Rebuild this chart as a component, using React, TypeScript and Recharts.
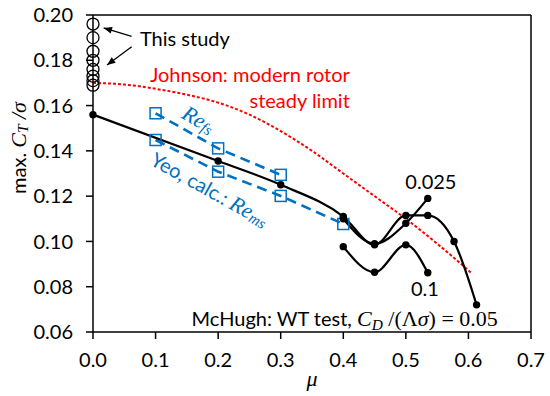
import { ComposedChart, Line, XAxis, YAxis, ReferenceLine, ReferenceDot, Label } from 'recharts'

const FONT = 'Lato, sans-serif'
const MATH = '"Liberation Serif", serif'
const BLUE = '#0070C0'
const RED = '#FF0000'
const FS = 20
const MS = 22

const X_TICKS = [0, 0.1, 0.2, 0.3, 0.4, 0.5, 0.6, 0.7]
const Y_TICKS = [0.06, 0.08, 0.1, 0.12, 0.14, 0.16, 0.18, 0.2]

// this study, all at mu = 0
const studyMu = [0, 0, 0, 0, 0, 0, 0, 0]
const studyCt = [0.196, 0.19, 0.184, 0.18, 0.176, 0.173, 0.171, 0.169]

// Johnson steady limit
const johnsonMu = [0, 0.05, 0.1, 0.15, 0.2, 0.25, 0.3, 0.35, 0.4, 0.45, 0.5, 0.55, 0.605]
const johnsonCt = [0.17, 0.1693, 0.1674, 0.1648, 0.1613, 0.156, 0.1487, 0.14, 0.13, 0.12, 0.11, 0.099, 0.086]

// McHugh WT test
const cd05Mu = [0, 0.2, 0.3, 0.4, 0.45, 0.5, 0.535, 0.577, 0.613]
const cd05Ct = [0.156, 0.1355, 0.125, 0.111, 0.0985, 0.1115, 0.1115, 0.1, 0.072]
const cd025Mu = [0.4, 0.45, 0.5, 0.535]
const cd025Ct = [0.11, 0.099, 0.108, 0.119]
const cd1Mu = [0.4, 0.45, 0.5, 0.535]
const cd1Ct = [0.0977, 0.0864, 0.0985, 0.0862]

// Yeo calc.
const refsMu = [0.1, 0.2, 0.3]
const refsCt = [0.1566, 0.1411, 0.1294]
const remsMu = [0.1, 0.2, 0.3, 0.4]
const remsCt = [0.1448, 0.1308, 0.1201, 0.1077]

const pts = (mu: number[], ct: number[]) => mu.map((m, i) => ({ mu: m, ct: ct[i] }))

const study = pts(studyMu, studyCt)
const johnson = pts(johnsonMu, johnsonCt)
const cd05 = pts(cd05Mu, cd05Ct)
const cd025 = pts(cd025Mu, cd025Ct)
const cd1 = pts(cd1Mu, cd1Ct)
const refs = pts(refsMu, refsCt)
const rems = pts(remsMu, remsCt)

const Square = (p: any) => (
  <rect
    key={`sq-${p.index}-${p.cx}`}
    x={p.cx - 5.5}
    y={p.cy - 5.5}
    width={11}
    height={11}
    fill="none"
    stroke={BLUE}
    strokeWidth={1.5}
  />
)

const Arrow = (p: any) => {
  const { x1, y1, x2, y2 } = p
  const a = Math.atan2(y2 - y1, x2 - x1)
  const L = 9
  const w = 0.38
  const hx1 = x2 - L * Math.cos(a - w)
  const hy1 = y2 - L * Math.sin(a - w)
  const hx2 = x2 - L * Math.cos(a + w)
  const hy2 = y2 - L * Math.sin(a + w)
  return (
    <g>
      <line x1={x1} y1={y1} x2={x2} y2={y2} stroke="#000" strokeWidth={1.3} />
      <polygon points={`${x2},${y2} ${hx1},${hy1} ${hx2},${hy2}`} fill="#000" />
    </g>
  )
}

const txt = (content: any, anchor: string, color = '#000', rotate = 0, baseline = 'auto') => (p: any) => (
  <text
    x={p.cx}
    y={p.cy}
    textAnchor={anchor}
    dominantBaseline={baseline}
    fill={color}
    fontFamily={FONT}
    fontSize={FS}
    transform={rotate ? `rotate(${rotate} ${p.cx} ${p.cy})` : undefined}
  >
    {content}
  </text>
)

const sub = (s: string) => (
  <tspan fontSize={MS * 0.7} dy={4}>
    {s}
  </tspan>
)

export default function App() {
  return (
    <div style={{ position: 'absolute', left: 0, top: 0, background: '#fff' }}>
      <ComposedChart width={550} height={396} margin={{ top: 15, right: 19, left: 0, bottom: 0 }}>
        <XAxis
          dataKey="mu"
          type="number"
          domain={[0, 0.7]}
          ticks={X_TICKS}
          tickFormatter={(v) => v.toFixed(1)}
          height={64}
          tickSize={7}
          tickMargin={14}
          axisLine={{ stroke: '#000', strokeWidth: 1.5 }}
          tickLine={{ stroke: '#000', strokeWidth: 1.5 }}
          tick={{ fill: '#000', fontFamily: FONT, fontSize: FS }}
        >
          <Label
            content={(props: any) => {
              const vb = props.viewBox
              return (
                <text x={vb.x + vb.width / 2} y={386} textAnchor="middle" fontFamily={MATH} fontStyle="italic" fontSize={MS} fill="#000">
                  μ
                </text>
              )
            }}
          />
        </XAxis>
        <YAxis
          type="number"
          domain={[0.06, 0.2]}
          ticks={Y_TICKS}
          tickFormatter={(v) => v.toFixed(2)}
          width={93}
          tickSize={7}
          tickMargin={13}
          axisLine={{ stroke: '#000', strokeWidth: 1.5 }}
          tickLine={{ stroke: '#000', strokeWidth: 1.5 }}
          tick={{ fill: '#000', fontFamily: FONT, fontSize: FS }}
        >
          <Label
            content={() => (
              <text x={18} y={148} transform="rotate(-90 18 148)" textAnchor="middle" dominantBaseline="central" fontFamily={FONT} fontSize={FS} fill="#000">
                max.{' '}
                <tspan fontFamily={MATH} fontStyle="italic" fontSize={MS}>C</tspan>
                <tspan fontFamily={MATH} fontStyle="italic" fontSize={MS * 0.7} dy={4}>T</tspan>
                <tspan fontFamily={MATH} fontStyle="italic" fontSize={MS} dy={-4}> /σ</tspan>
              </text>
            )}
          />
        </YAxis>

        <ReferenceLine y={0.2} stroke="#000" strokeWidth={1.5} />
        <ReferenceLine x={0.7} stroke="#000" strokeWidth={1.5} />

        <Line data={johnson} dataKey="ct" type="monotone" stroke={RED} strokeWidth={2} strokeDasharray="3 2" dot={false} isAnimationActive={false} />

        <Line data={refs} dataKey="ct" type="linear" stroke={BLUE} strokeWidth={2.6} strokeDasharray="10 6" dot={Square} isAnimationActive={false} />
        <Line data={rems} dataKey="ct" type="linear" stroke={BLUE} strokeWidth={2.6} strokeDasharray="10 6" dot={Square} isAnimationActive={false} />

        <Line data={cd05} dataKey="ct" type="monotone" stroke="#000" strokeWidth={2.2} dot={{ r: 3.7, fill: '#000', stroke: 'none' }} isAnimationActive={false} />
        <Line data={cd025} dataKey="ct" type="monotone" stroke="#000" strokeWidth={2.2} dot={{ r: 3.7, fill: '#000', stroke: 'none' }} isAnimationActive={false} />
        <Line data={cd1} dataKey="ct" type="monotone" stroke="#000" strokeWidth={2.2} dot={{ r: 3.7, fill: '#000', stroke: 'none' }} isAnimationActive={false} />

        <Line data={study} dataKey="ct" stroke="none" dot={{ r: 6, fill: 'none', stroke: '#000', strokeWidth: 1.3 }} isAnimationActive={false} />

        <ReferenceLine segment={[{ x: 0.0616, y: 0.1906 }, { x: 0.017, y: 0.1943 }]} shape={Arrow} />
        <ReferenceLine segment={[{ x: 0.0618, y: 0.186 }, { x: 0.0224, y: 0.1779 }]} shape={Arrow} />

        <ReferenceDot x={0.0751} y={0.1863} r={1} shape={txt('This study', 'start')} />
        <ReferenceDot x={0.4105} y={0.1706} r={1} shape={txt('Johnson: modern rotor', 'end', RED)} />
        <ReferenceDot x={0.4105} y={0.1588} r={1} shape={txt('steady limit', 'end', RED)} />
        <ReferenceDot
          x={0.1693}
          y={0.1541}
          r={1}
          shape={txt(
            <tspan fontFamily={MATH} fontStyle="italic" fontSize={MS}>
              Re{sub('fs')}
            </tspan>,
            'middle',
            BLUE,
            30,
            'central'
          )}
        />
        <ReferenceDot
          x={0.187}
          y={0.1232}
          r={1}
          shape={txt(
            <>
              Yeo, calc.:{' '}
              <tspan fontFamily={MATH} fontStyle="italic" fontSize={MS}>
                Re{sub('ms')}
              </tspan>
            </>,
            'middle',
            BLUE,
            29,
            'central'
          )}
        />
        <ReferenceDot x={0.54} y={0.123} r={1} shape={txt('0.025', 'middle')} />
        <ReferenceDot x={0.5304} y={0.0761} r={1} shape={txt('0.1', 'middle')} />
        <ReferenceDot
          x={0.647}
          y={0.0627}
          r={1}
          shape={txt(
            <>
              McHugh: WT test,{' '}
              <tspan fontFamily={MATH} fontStyle="italic" fontSize={MS}>C</tspan>
              <tspan fontFamily={MATH} fontStyle="italic" fontSize={MS * 0.7} dy={4}>D</tspan>
              <tspan fontFamily={MATH} fontSize={MS} dy={-4}> /(Λ</tspan>
              <tspan fontFamily={MATH} fontStyle="italic" fontSize={MS}>σ</tspan>
              <tspan fontFamily={MATH} fontSize={MS}>) = 0.05</tspan>
            </>,
            'end'
          )}
        />
      </ComposedChart>
    </div>
  )
}
